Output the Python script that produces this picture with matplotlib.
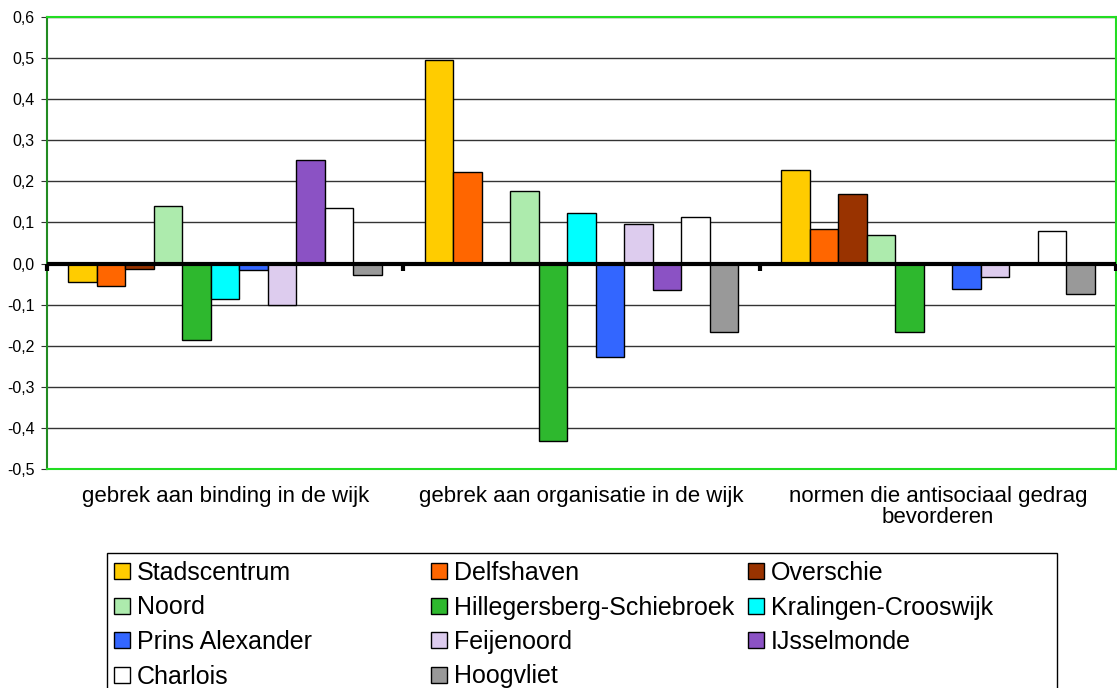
import numpy as np
import matplotlib.pyplot as plt
from matplotlib.patches import Patch, Rectangle
from matplotlib.ticker import FuncFormatter

plt.rcParams['font.family'] = ['Liberation Sans', 'DejaVu Sans']

categories = ["gebrek aan binding in de wijk",
              "gebrek aan organisatie in de wijk",
              "normen die antisociaal gedrag\nbevorderen"]
districts = ["Stadscentrum", "Delfshaven", "Overschie", "Noord",
             "Hillegersberg-Schiebroek", "Kralingen-Crooswijk", "Prins Alexander",
             "Feijenoord", "IJsselmonde", "Charlois", "Hoogvliet"]
# values per district, one per category
stadscentrum = [-0.046, 0.495, 0.228]
delfshaven = [-0.055, 0.223, 0.084]
overschie = [-0.014, 0.0, 0.170]
noord = [0.140, 0.176, 0.070]
hillegersberg = [-0.186, -0.431, -0.166]
kralingen = [-0.086, 0.122, 0.0]
prins_alexander = [-0.016, -0.227, -0.061]
feijenoord = [-0.100, 0.097, -0.033]
ijsselmonde = [0.251, -0.064, 0.0]
charlois = [0.135, 0.113, 0.078]
hoogvliet = [-0.027, -0.166, -0.073]

series = [stadscentrum, delfshaven, overschie, noord, hillegersberg, kralingen,
          prins_alexander, feijenoord, ijsselmonde, charlois, hoogvliet]
colors = ["#FFCC00", "#FF6600", "#993300", "#ADEBAD", "#2EB82E", "#00FFFF",
          "#3366FF", "#DDCCEE", "#8B52C4", "#FFFFFF", "#999999"]

fig = plt.figure(figsize=(11.17, 6.88), dpi=100)
ax = fig.add_axes([47/1117, 219/688, 1069/1117, 452/688])

x = np.arange(len(categories))
w = 0.08
n = len(series)
for i, vals in enumerate(series):
    ax.bar(x + (i - (n - 1) / 2) * w, vals, width=w, color=colors[i],
           edgecolor="black", linewidth=1, zorder=2)

ax.set_xlim(-0.5, 2.5)
ax.set_ylim(-0.5, 0.6)
ax.set_yticks(np.arange(-0.5, 0.61, 0.1))
ax.yaxis.set_major_formatter(FuncFormatter(lambda v, p: f"{round(v, 1) + 0:.1f}".replace(".", ",")))
ax.yaxis.grid(True, color="#333333", linewidth=1, zorder=0)
ax.tick_params(axis="y", labelsize=11.5, length=4, color="#333333", pad=5)

ax.set_xticks(x)
ax.set_xticklabels(categories, fontsize=16, linespacing=1.05)
ax.tick_params(axis="x", length=0, pad=12)

# zero line with category separators
ax.axhline(0, color="black", linewidth=3, zorder=3)
ax.vlines(np.arange(-0.5, 2.6, 1.0), -0.018, 0, color="black", linewidth=3,
          zorder=3, clip_on=False)

for s in ["top", "right", "bottom"]:
    ax.spines[s].set_color("#22DD22")
    ax.spines[s].set_linewidth(1.5)
ax.spines["left"].set_color("#228B22")
ax.spines["left"].set_linewidth(1.5)

# legend: three fixed-width columns inside one box
handles = [Patch(facecolor=c, edgecolor="black", linewidth=1) for c in colors]
columns = [[0, 3, 6, 9], [1, 4, 7, 10], [2, 5, 8]]
col_x = [114, 431, 748]
for cx, idx in zip(col_x, columns):
    fig.legend([handles[i] for i in idx], [districts[i] for i in idx],
               loc="upper left", bbox_to_anchor=(cx/1117, 1 - 561/688),
               fontsize=18, frameon=False, borderaxespad=0, borderpad=0,
               handlelength=0.64, handleheight=0.6, handletextpad=0.28,
               labelspacing=0.42)
fig.add_artist(Rectangle((107/1117, -0.01), 950/1117, (688 - 553)/688 + 0.01,
                         transform=fig.transFigure, facecolor="none",
                         edgecolor="black", linewidth=1))

fig.savefig("out.png", dpi=100)
